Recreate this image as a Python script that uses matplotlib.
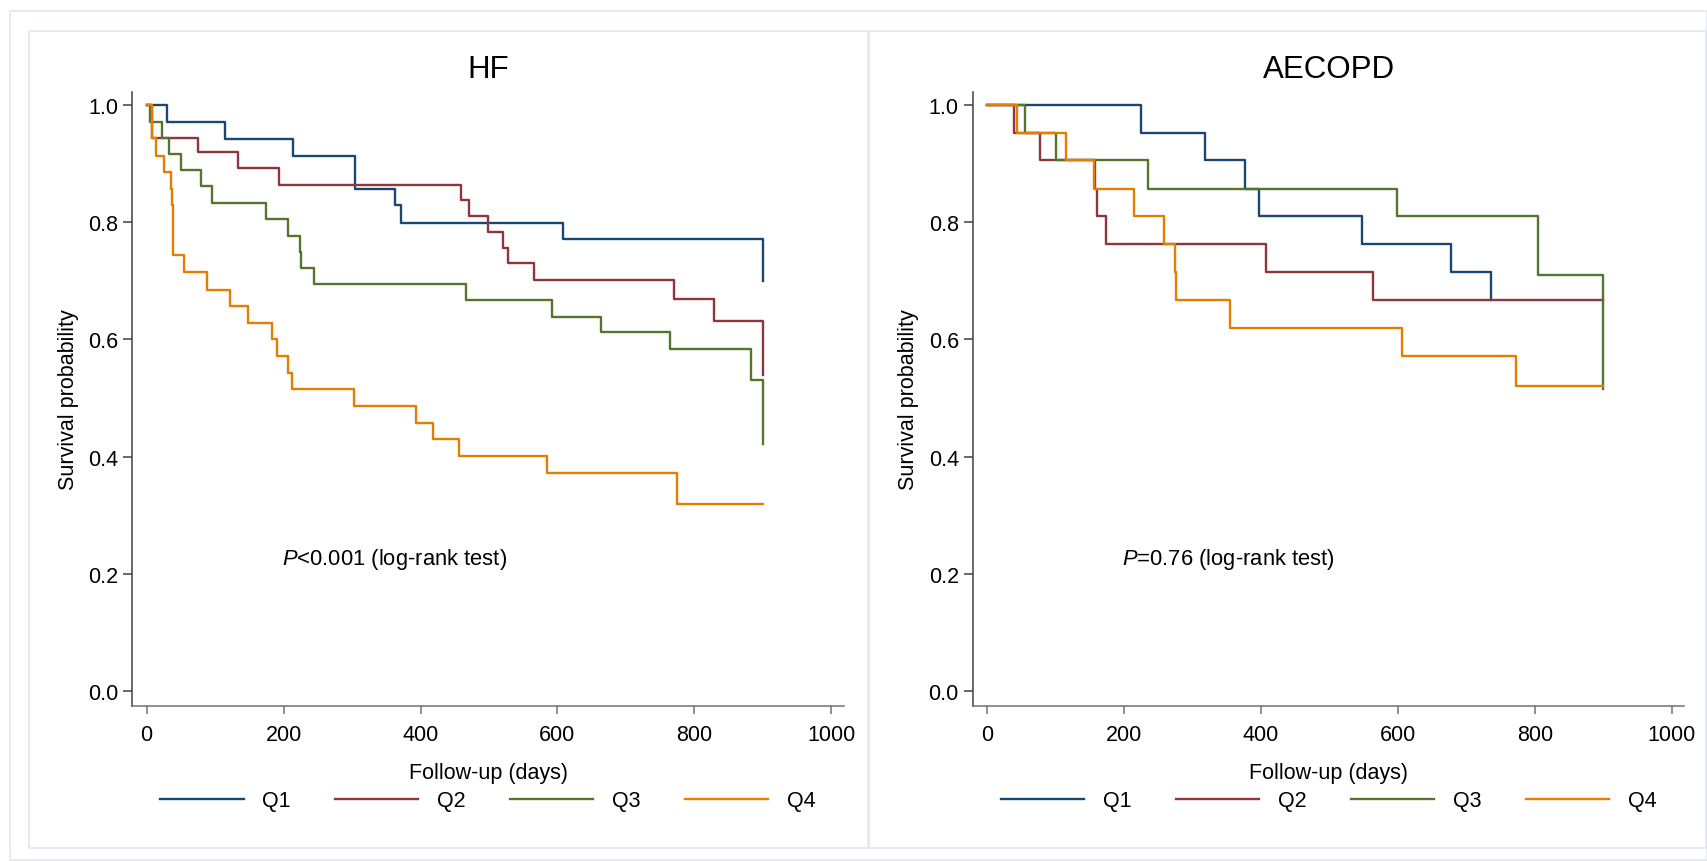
import matplotlib
matplotlib.use("Agg")
import matplotlib.pyplot as plt
from matplotlib.patches import Rectangle
from matplotlib.lines import Line2D

plt.rcParams['font.family'] = ['Liberation Sans', 'DejaVu Sans']
plt.rcParams['mathtext.fontset'] = 'custom'
plt.rcParams['mathtext.rm'] = 'Liberation Sans'
plt.rcParams['mathtext.it'] = 'Liberation Sans:italic'

groups = ['Q1', 'Q2', 'Q3', 'Q4']
colors = ['#1a476f', '#90353b', '#55752f', '#e37e00']

# HF - Kaplan-Meier steps (days, survival)
hf_q1_t = [0, 29, 114, 213, 304, 305, 362, 371, 608, 900]
hf_q1_s = [1.0, 0.970, 0.942, 0.913, 0.886, 0.857, 0.829, 0.799, 0.771, 0.700]
hf_q2_t = [0, 8, 75, 133, 193, 459, 471, 498, 520, 528, 565, 770, 828, 900]
hf_q2_s = [1.0, 0.944, 0.919, 0.892, 0.864, 0.837, 0.811, 0.783, 0.756, 0.730, 0.702, 0.668, 0.631, 0.540]
hf_q3_t = [0, 5, 22, 33, 50, 79, 95, 175, 206, 224, 226, 245, 467, 592, 663, 765, 883, 900]
hf_q3_s = [1.0, 0.971, 0.943, 0.916, 0.888, 0.861, 0.833, 0.805, 0.777, 0.749, 0.722, 0.694,
           0.667, 0.638, 0.612, 0.583, 0.530, 0.422]
hf_q4_t = [0, 8, 14, 26, 35, 37, 39, 54, 88, 122, 148, 183, 190, 206, 212, 303, 393, 418, 456,
           584, 775, 900]
hf_q4_s = [1.0, 0.943, 0.912, 0.886, 0.857, 0.829, 0.743, 0.714, 0.685, 0.657, 0.628, 0.600,
           0.572, 0.543, 0.515, 0.486, 0.458, 0.430, 0.401, 0.372, 0.320, 0.320]

# AECOPD
ae_q1_t = [0, 225, 318, 377, 397, 548, 678, 736]
ae_q1_s = [1.0, 0.952, 0.905, 0.857, 0.810, 0.762, 0.714, 0.667]
ae_q2_t = [0, 40, 77, 157, 160, 173, 407, 563, 899]
ae_q2_s = [1.0, 0.952, 0.905, 0.857, 0.810, 0.762, 0.714, 0.667, 0.667]
ae_q3_t = [0, 56, 101, 235, 598, 804, 805, 899]
ae_q3_s = [1.0, 0.952, 0.905, 0.857, 0.810, 0.760, 0.709, 0.516]
ae_q4_t = [0, 44, 116, 156, 214, 259, 274, 276, 355, 606, 773, 899]
ae_q4_s = [1.0, 0.952, 0.905, 0.857, 0.810, 0.762, 0.714, 0.667, 0.619, 0.571, 0.520, 0.520]

panels = [
    ('HF', [(hf_q1_t, hf_q1_s), (hf_q2_t, hf_q2_s), (hf_q3_t, hf_q3_s), (hf_q4_t, hf_q4_s)],
     r'$\it{P}$<0.001 (log-rank test)'),
    ('AECOPD', [(ae_q1_t, ae_q1_s), (ae_q2_t, ae_q2_s), (ae_q3_t, ae_q3_s), (ae_q4_t, ae_q4_s)],
     r'$\it{P}$=0.76 (log-rank test)'),
]

W, H = 1708, 862
fig = plt.figure(figsize=(W / 100, H / 100), dpi=100)


def box(x0, y0, x1, y1):
    # pixel box (top-left origin) -> figure fraction rectangle
    r = Rectangle((x0 / W, 1 - y1 / H), (x1 - x0) / W, (y1 - y0) / H,
                  transform=fig.transFigure, fill=False, ec='#e3e9ef', lw=1.3)
    fig.add_artist(r)


box(9.6, 12, 1707, 861)
box(28.7, 32, 868.5, 849)
box(868.5, 32, 1706, 849)

ax_left_px = [132.3, 972.7]
for i, (title, curves, ptext) in enumerate(panels):
    ax = fig.add_axes([ax_left_px[i] / W, 1 - 706.7 / H, 711.7 / W, 614 / H])
    for (t, s), c in zip(curves, colors):
        ax.step(t, s, where='post', color=c, lw=1.7)
    ax.set_xlim(-21, 1018.5)
    ax.set_ylim(-0.0245, 1.0222)
    ax.set_xticks([0, 200, 400, 600, 800, 1000])
    ax.set_yticks([0.0, 0.2, 0.4, 0.6, 0.8, 1.0])
    ax.set_yticklabels(['%.1f' % v for v in ax.get_yticks()])
    for side in ['top', 'right']:
        ax.spines[side].set_visible(False)
    ax.spines['left'].set_color('#404040')
    ax.spines['bottom'].set_color('#707070')
    ax.spines['left'].set_linewidth(1.1)
    ax.spines['bottom'].set_linewidth(1.1)
    ax.tick_params(axis='x', length=6, width=1.1, color='#707070', pad=7.5, labelsize=15.5)
    ax.tick_params(axis='y', length=6.5, width=1.1, color='#404040', pad=3.5, labelsize=15.5)
    ax.set_title(title, fontsize=22.5, pad=10.5)
    ax.set_xlabel('Follow-up (days)', fontsize=15.5)
    ax.xaxis.set_label_coords(0.5, -0.092)
    ax.set_ylabel('Survival probability', fontsize=15.5)
    ax.yaxis.set_label_coords(-0.075, 0.5)
    ax.text(197, 0.217, ptext, fontsize=15.8, va='baseline', ha='left')
    handles = [Line2D([], [], color=c, lw=1.7) for c in colors]
    ax.legend(handles, groups, ncol=4, loc='center', bbox_to_anchor=(0.5, -0.155),
              frameon=False, fontsize=15.5, handlelength=3.86, handletextpad=0.88,
              columnspacing=2.06)

fig.savefig('out.png', dpi=100)
